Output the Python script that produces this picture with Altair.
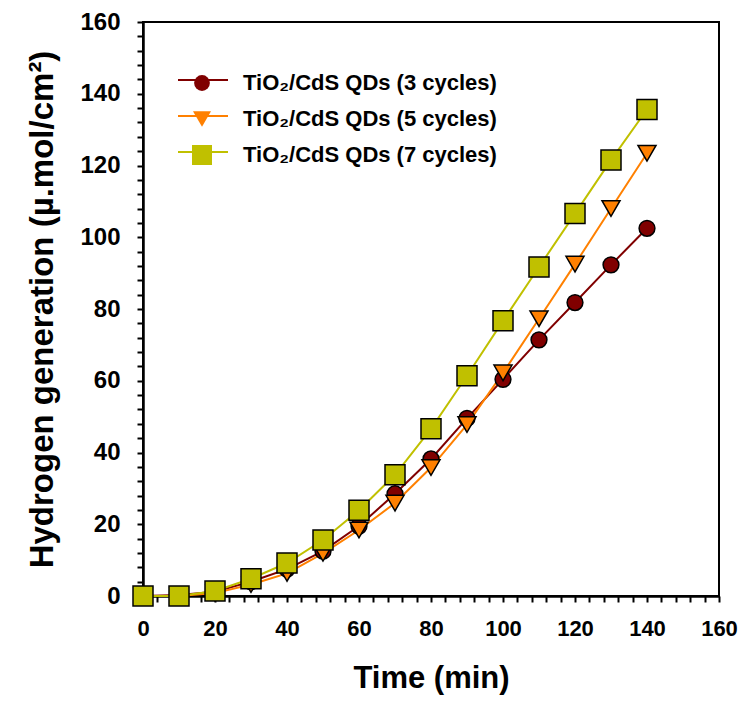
import altair as alt
import pandas as pd

times = [0, 10, 20, 30, 40, 50, 60, 70, 80, 90, 100, 110, 120, 130, 140]
series_names = [
    "TiO\u2082/CdS QDs (3 cycles)",
    "TiO\u2082/CdS QDs (5 cycles)",
    "TiO\u2082/CdS QDs (7 cycles)",
]
cycles3 = [0, 0.3, 1.2, 4.0, 7.5, 12.5, 19.5, 28.5, 38.2, 49.5, 60.4, 71.4, 81.8, 92.3, 102.5]
cycles5 = [0, 0, 0.8, 3.2, 6.3, 11.9, 18.4, 25.9, 35.8, 47.8, 62.2, 77.3, 92.5, 108.0, 123.4]
cycles7 = [0, 0, 1.4, 4.8, 9.2, 15.6, 23.9, 33.8, 46.6, 61.4, 76.7, 91.7, 106.6, 121.5, 135.6]

colors = ["#800000", "#FF8000", "#C0C000"]
shapes = ["circle", "triangle-down", "square"]
sizes = [250, 400, 289]
tick_vals = list(range(0, 161, 4))

rows = []
for name, vals in zip(series_names, [cycles3, cycles5, cycles7]):
    for t, v in zip(times, vals):
        rows.append({"time": t, "h2": v, "series": name, "line_key": name})
df = pd.DataFrame(rows)

FONT = "Liberation Sans"
scale = alt.Scale(domain=[0, 160], nice=False)
label_expr = "datum.value % 20 === 0 ? datum.label : ''"

common = dict(
    values=tick_vals, tickCount=100, labelExpr=label_expr,
    tickSize=6, tickWidth=2, tickColor="black",
    domainColor="black", domainWidth=2.5, grid=False,
    labelFont=FONT, labelFontWeight="bold", labelColor="black",
    labelOverlap=False, labelFlush=False,
    titleFont=FONT, titleFontWeight="bold", titleColor="black",
)

x_enc = alt.X("time:Q", scale=scale, axis=alt.Axis(
    title="Time (min)", labelFontSize=22, labelPadding=16, titleFontSize=31,
    titlePadding=24, **common))
y_enc = alt.Y("h2:Q", scale=scale, axis=alt.Axis(
    title="Hydrogen generation (\u00b5.mol/cm\u00b2)", labelFontSize=24, labelPadding=17,
    titleFontSize=33, titlePadding=20, **common))

lines = alt.Chart(df).mark_line(strokeWidth=2).encode(
    x=x_enc,
    y=y_enc,
    stroke=alt.Stroke(
        "line_key:N",
        scale=alt.Scale(range=colors),
        legend=alt.Legend(
            title=" ", titleFontSize=3, titlePadding=6,
            orient="top-left", offset=34,
            symbolType="stroke", symbolSize=2500, symbolStrokeWidth=2,
            labelExpr="''", labelFontSize=22, labelFont=FONT,
            clipHeight=30, rowPadding=6, padding=0,
        ),
    ),
    order=alt.Order("time:Q"),
)

point_legend = alt.Legend(
    title=None, orient="none", legendX=48, legendY=46,
    symbolSize=300, symbolStrokeColor="black", symbolStrokeWidth=1.5,
    symbolOpacity=1,
    labelFont=FONT, labelFontSize=22, labelFontWeight="bold", labelColor="black",
    labelOffset=30, clipHeight=30, rowPadding=6, padding=0, labelLimit=400,
)

points = alt.Chart(df).mark_point(filled=True, stroke="black", strokeWidth=1.5, opacity=1).encode(
    x="time:Q",
    y="h2:Q",
    color=alt.Color("series:N", scale=alt.Scale(domain=series_names, range=colors), legend=point_legend),
    shape=alt.Shape("series:N", scale=alt.Scale(domain=series_names, range=shapes), legend=point_legend),
    size=alt.Size("series:N", scale=alt.Scale(domain=series_names, range=sizes), legend=None),
)

chart = (
    alt.layer(lines, points)
    .properties(
        width=576, height=574,
        autosize=alt.AutoSizeParams(type="none"),
        padding={"left": 135, "top": 14, "right": 19, "bottom": 100},
        background="white",
    )
    .configure_view(stroke="black", strokeWidth=2)
)

chart.save("out.html", embed_options={"renderer": "svg", "actions": False})
